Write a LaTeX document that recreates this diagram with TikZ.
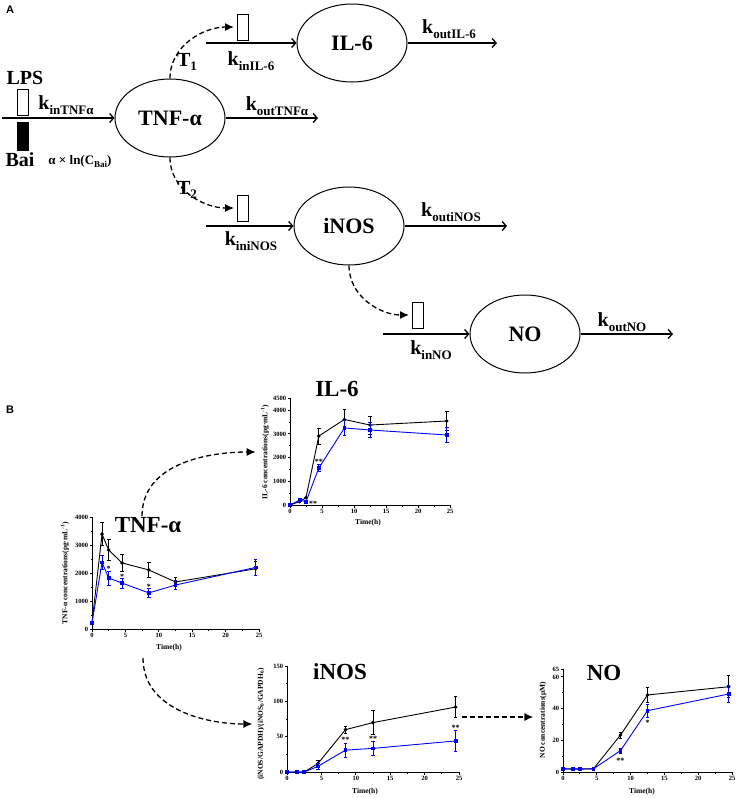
\documentclass[tikz,border=0pt]{standalone}
\usepackage{fontspec}
\setmainfont{Liberation Serif}
\newfontfamily\panelfont{Liberation Sans}
\usetikzlibrary{shapes.geometric,arrows.meta,plotmarks}

\newcommand{\fs}[1]{\fontsize{#1}{#1}\selectfont}
\newcommand{\low}[2]{\raisebox{-0.5ex}{\fs{#1}#2}}
\newcommand{\rate}[1]{k\low{13}{#1}}
% error bar with caps, in chart units
\newcommand{\ebar}[4]{%
  \draw[line width=0.8pt, #1] (#2,{#3-#4}) -- (#2,{#3+#4})
    ([xshift=-1.8pt]#2,{#3-#4}) -- ([xshift=1.8pt]#2,{#3-#4})
    ([xshift=-1.8pt]#2,{#3+#4}) -- ([xshift=1.8pt]#2,{#3+#4});}

\tikzset{
  proc/.style={ellipse, draw, line width=1pt, minimum width=110pt,
    minimum height=78pt, inner sep=0pt, font=\bfseries\fs{22}},
  gate/.style={draw, line width=1pt, minimum width=11pt, minimum height=26pt,
    inner sep=0pt},
  flux/.style={line width=1.3pt, -{Straight Barb[length=4pt,width=9pt]}},
  delay/.style={line width=1.3pt, dash pattern=on 5pt off 3pt,
    -{Latex[length=9pt,width=8pt]}},
  lab/.style={font=\bfseries\fs{20}, inner sep=0pt},
  panel/.style={font=\panelfont\bfseries\fs{11}, inner sep=0pt},
  title/.style={font=\bfseries\fs{23}, inner sep=1pt},
  ylab/.style={font=\bfseries\fs{7.5}, rotate=90, inner sep=1pt},
  time/.style={font=\bfseries\fs{7.5}, inner sep=0pt},
  tick/.style={font=\bfseries\fs{6.5}, inner sep=1pt},
  star/.style={font=\bfseries\fs{8}, inner sep=0pt},
  axis/.style={line width=0.9pt},
  ctrl/.style={line width=0.9pt, mark=*, mark size=1.3pt},
  bai/.style={blue, line width=0.9pt, mark=square*, mark size=1.4pt}
}

\begin{document}
\begin{tikzpicture}[x=1pt, y=-1pt]
\useasboundingbox (0,0) rectangle (737,798);

% ---- A: model ----
\node[panel] (pa) at (10,10) {A};

\node[proc] (tnf) at (170,118) {TNF-α};
\node[proc] (il6) at (352,43) {IL-6};
\node[proc] (inos) at (349,226) {iNOS};
\node[proc] (no) at (525,334) {NO};

\node[gate] (lps) at (23,102) {};
\node[gate, fill=black, minimum height=28pt] (bai) at (23,136) {};
\node[gate] (il6g) at (243,27) {};
\node[gate] (inosg) at (243,208) {};
\node[gate] (nog) at (418,315) {};

\coordinate (tnfin) at (2,118);
\coordinate (tnfout) at (318,118);
\coordinate (il6in) at (206,43);
\coordinate (il6out) at (497,43);
\coordinate (inosin) at (206,226);
\coordinate (inosout) at (507,226);
\coordinate (noin) at (383,334);
\coordinate (noout) at (673,334);

\draw[flux] (tnfin) -- (tnf);
\draw[flux] (tnf.east) -- (tnfout);
\draw[flux] (il6in) -- (il6);
\draw[flux] (il6.east) -- (il6out);
\draw[flux] (inosin) -- (inos);
\draw[flux] (inos.east) -- (inosout);
\draw[flux] (noin) -- (no);
\draw[flux] (no.east) -- (noout);

\draw[delay, shorten >=3pt] (tnf.north) to[out=90, in=180] (il6g.west);
\draw[delay, shorten >=3pt] (tnf.south) to[out=-90, in=180] (inosg.west);
\draw[delay, shorten >=3pt] (inos.south) to[out=-90, in=180] (nog.west);

\node[lab] (lpsname) at (25,78) {LPS};
\node[lab] (bainame) at (20,160) {Bai};
\node[lab, font=\bfseries\fs{13}] (effect) at (80,162) {α × ln(C\low{9}{Bai})};
\node[lab] (kintnf) at (66,105) {\rate{inTNFα}};
\node[lab] (kouttnf) at (277,106) {\rate{outTNFα}};
\node[lab] (tone) at (187,62) {T\low{13}{1}};
\node[lab] (ttwo) at (187,190) {T\low{13}{2}};
\node[lab] (kinil6) at (251,61) {\rate{inIL-6}};
\node[lab] (koutil6) at (449,29) {\rate{outIL-6}};
\node[lab] (kininos) at (251,241) {\rate{iniNOS}};
\node[lab] (koutinos) at (451,212) {\rate{outiNOS}};
\node[lab] (kinno) at (431,350) {\rate{inNO}};
\node[lab] (koutno) at (622,322) {\rate{outNO}};

% ---- B: data ----
\node[panel] (pb) at (10,410) {B};

% TNF-alpha
\begin{scope}[shift={(92pt,-629pt)}, x=6.68pt, y=0.028pt]
  \draw[axis] (0,4000) -- (0,0) -- (25,0);
  \foreach \v in {0,1000,...,4000}
    \draw[axis] (0,\v) -- ++(-2.5pt,0pt) node[tick, left] (tnfy\v) {\v};
  \foreach \v in {500,1500,...,3500}
    \draw[axis] (0,\v) -- ++(-1.5pt,0pt);
  \foreach \t in {0,5,...,25}
    \draw[axis] (\t,0) -- ++(0pt,-2.5pt) node[tick, below] (tnfx\t) {\t};
  \foreach \t in {2.5,7.5,...,22.5}
    \draw[axis] (\t,0) -- ++(0pt,-1.5pt);
  \foreach \t/\v/\e in {1.5/3390/400, 2.5/2820/380, 4.5/2360/320,
      8.5/2110/260, 12.5/1680/150, 24.5/2150/250}
    \ebar{}{\t}{\v}{\e};
  \draw[ctrl] plot coordinates {(0,214) (1.5,3390) (2.5,2820) (4.5,2360)
    (8.5,2110) (12.5,1680) (24.5,2150)};
  \foreach \t/\v/\e in {1.5/2380/250, 2.5/1820/250, 4.5/1640/180,
      8.5/1290/150, 12.5/1570/150, 24.5/2200/280}
    \ebar{blue}{\t}{\v}{\e};
  \draw[bai] plot coordinates {(0,214) (1.5,2380) (2.5,1820) (4.5,1640)
    (8.5,1290) (12.5,1570) (24.5,2200)};
  \node[star] (tnfs1) at (2.5,2150) {*};
  \node[star] (tnfs2) at (4.5,1880) {*};
  \node[star] (tnfs3) at (8.5,1520) {*};
\end{scope}

% IL-6
\begin{scope}[shift={(290pt,-505pt)}, x=6.4pt, y=0.0237pt]
  \draw[axis] (0,4500) -- (0,0) -- (25,0);
  \foreach \v in {0,1000,...,4000,4500}
    \draw[axis] (0,\v) -- ++(-2.5pt,0pt) node[tick, left] (il6y\v) {\v};
  \foreach \v in {500,1500,...,3500}
    \draw[axis] (0,\v) -- ++(-1.5pt,0pt);
  \foreach \t in {0,5,...,25}
    \draw[axis] (\t,0) -- ++(0pt,-2.5pt) node[tick, below] (il6x\t) {\t};
  \foreach \t in {2.5,7.5,...,22.5}
    \draw[axis] (\t,0) -- ++(0pt,-1.5pt);
  \foreach \t/\v/\e in {4.5/2910/340, 8.5/3610/440, 12.5/3375/380,
      24.5/3545/400}
    \ebar{}{\t}{\v}{\e};
  \draw[ctrl] plot coordinates {(0,0) (1.5,140) (2.5,310) (4.5,2910)
    (8.5,3610) (12.5,3375) (24.5,3545)};
  \foreach \t/\v/\e in {1.5/210/60, 4.5/1560/150, 8.5/3250/320,
      12.5/3165/330, 24.5/2955/320}
    \ebar{blue}{\t}{\v}{\e};
  \draw[bai] plot coordinates {(0,0) (1.5,210) (2.5,140) (4.5,1560)
    (8.5,3250) (12.5,3165) (24.5,2955)};
  \node[star] (il6s1) at (4.5,1820) {**};
  \node[star] (il6s2) at (3.6,60) {**};
\end{scope}

% iNOS
\begin{scope}[shift={(287pt,-772pt)}, x=6.88pt, y=0.706pt]
  \draw[axis] (0,150) -- (0,0) -- (25,0);
  \foreach \v in {0,50,...,150}
    \draw[axis] (0,\v) -- ++(-2.5pt,0pt) node[tick, left] (inosy\v) {\v};
  \foreach \v in {25,75,125}
    \draw[axis] (0,\v) -- ++(-1.5pt,0pt);
  \foreach \t in {0,5,...,25}
    \draw[axis] (\t,0) -- ++(0pt,-2.5pt) node[tick, below] (inosx\t) {\t};
  \foreach \t in {2.5,7.5,...,22.5}
    \draw[axis] (\t,0) -- ++(0pt,-1.5pt);
  \foreach \t/\v/\e in {4.5/12/5, 8.5/60/5, 12.5/70/17, 24.5/92/15}
    \ebar{}{\t}{\v}{\e};
  \draw[ctrl] plot coordinates {(0,0) (1.5,0) (2.5,0) (4.5,12)
    (8.5,60) (12.5,70) (24.5,92)};
  \foreach \t/\v/\e in {4.5/8/4, 8.5/31/10, 12.5/33.5/10, 24.5/44/15}
    \ebar{blue}{\t}{\v}{\e};
  \draw[bai] plot coordinates {(0,0) (1.5,0) (2.5,0) (4.5,8)
    (8.5,31) (12.5,33.5) (24.5,44)};
  \node[star] (inoss1) at (8.5,45) {**};
  \node[star] (inoss2) at (12.5,47) {**};
  \node[star] (inoss3) at (24.5,63) {**};
\end{scope}

% NO
\begin{scope}[shift={(563pt,-772pt)}, x=6.76pt, y=1.585pt]
  \draw[axis] (0,65) -- (0,0) -- (25,0);
  \foreach \v in {0,20,40,60,65}
    \draw[axis] (0,\v) -- ++(-2.5pt,0pt) node[tick, left] (noy\v) {\v};
  \foreach \v in {10,30,50}
    \draw[axis] (0,\v) -- ++(-1.5pt,0pt);
  \foreach \t in {0,5,...,25}
    \draw[axis] (\t,0) -- ++(0pt,-2.5pt) node[tick, below] (nox\t) {\t};
  \foreach \t in {2.5,7.5,...,22.5}
    \draw[axis] (\t,0) -- ++(0pt,-1.5pt);
  \foreach \t/\v/\e in {8.5/23.3/2, 12.5/48.6/4.5, 24.5/53.8/7}
    \ebar{}{\t}{\v}{\e};
  \draw[ctrl] plot coordinates {(0,2) (1.5,2) (2.5,2) (4.5,2)
    (8.5,23.3) (12.5,48.6) (24.5,53.8)};
  \foreach \t/\v/\e in {8.5/13.5/1.5, 12.5/38.7/4, 24.5/49.2/5.5}
    \ebar{blue}{\t}{\v}{\e};
  \draw[bai] plot coordinates {(0,2) (1.5,1.8) (2.5,1.8) (4.5,2)
    (8.5,13.5) (12.5,38.7) (24.5,49.2)};
  \node[star] (nos1) at (8.5,7) {**};
  \node[star] (nos2) at (12.5,31) {*};
\end{scope}

\node[title] (tnfname) at (148,525) {TNF-α};
\node[title] (il6name) at (337,389) {IL-6};
\node[title] (inosname) at (340,672) {iNOS};
\node[title] (noname) at (604,673) {NO};

\node[ylab] (tnfylab) at (65,573) {TNF-α concentrations(pg·mL\textsuperscript{-1})};
\node[ylab] (il6ylab) at (265,452) {IL-6 concentrations(pg·mL\textsuperscript{-1})};
\node[ylab] (inosylab) at (261,724) {(iNOS/GAPDH)/(iNOS\textsubscript{0}/GAPDH\textsubscript{0})};
\node[ylab] (noylab) at (543,720) {NO concentrations(μM)};

\node[time] (tnftime) at (169,648) {Time(h)};
\node[time] (il6time) at (368,523) {Time(h)};
\node[time] (inostime) at (365,792) {Time(h)};
\node[time] (notime) at (642,792) {Time(h)};

\coordinate (tnfdown) at (143,658);
\coordinate (inosend) at (462,717);

\draw[delay, shorten >=4pt] ([xshift=-6pt]tnfname.north) to[out=90, in=180] (il6ylab.north);
\draw[delay, shorten >=4pt] (tnfdown) to[out=-90, in=180] (inosylab.north);
\draw[delay, shorten >=5pt] (inosend) -- (inosend -| noylab.north);
\end{tikzpicture}
\end{document}
